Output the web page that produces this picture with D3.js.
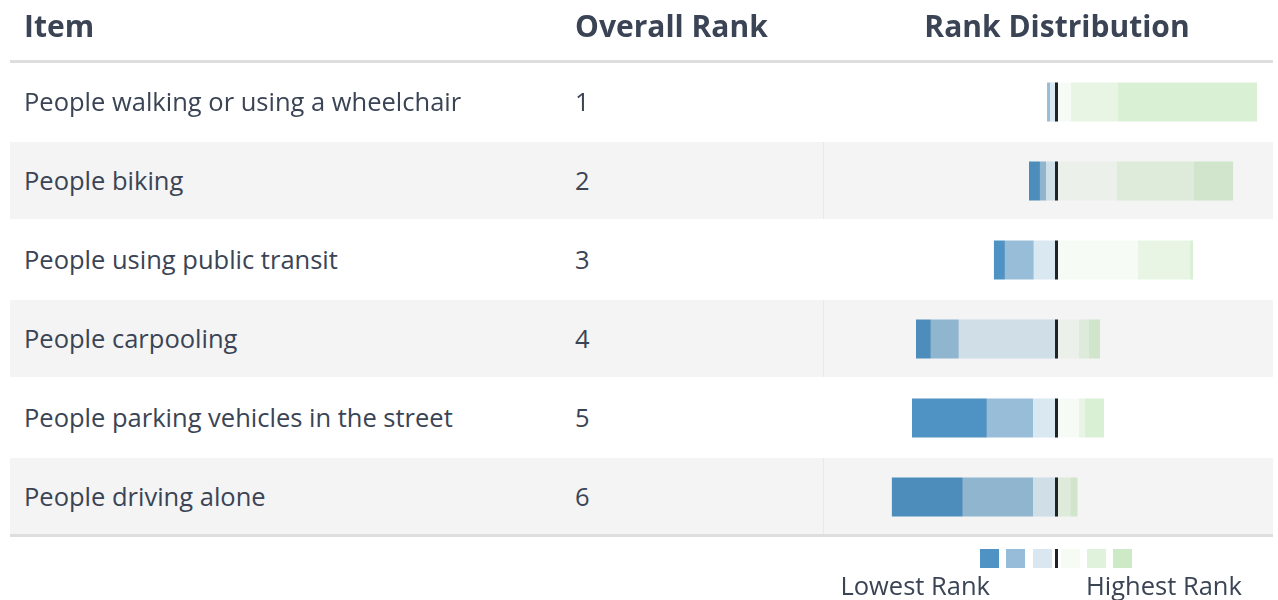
<!DOCTYPE html>
<html>
<head>
<meta charset="utf-8">
<script src="https://cdn.jsdelivr.net/npm/d3@7"></script>
<style>
  body { margin: 0; background: #fff; }
  svg text { font-family: "Open Sans", Lato, sans-serif; fill: #3a4455; }
</style>
</head>
<body>
<div id="root"></div>
<script>
const width = 1278;
const height = 600;

// table content
const items = [
  'People walking or using a wheelchair',
  'People biking',
  'People using public transit',
  'People carpooling',
  'People parking vehicles in the street',
  'People driving alone'
];
const overallRank = [1, 2, 3, 4, 5, 6];

// share of respondents (%) giving each rank, lowest rank (6) first
const rankLabels = ['6', '5', '4', '3', '2', '1'];
const rank6 = [0, 5.2, 5.2, 7.0, 35.6, 33.7];
const rank5 = [1.4, 2.9, 13.7, 13.3, 22.0, 33.5];
const rank4 = [3.1, 5.0, 10.9, 46.6, 11.2, 11.2];
const rank3 = [6.9, 28.8, 38.8, 10.7, 10.7, 0.5];
const rank2 = [22.4, 36.7, 24.8, 4.8, 2.9, 6.2];
const rank1 = [66.2, 18.6, 1.4, 5.2, 9.0, 3.3];

const barColors = ['#4f93c4', '#97bdd9', '#dae8f2', '#f6fbf5', '#e8f5e4', '#daf0d5'];
const legendColors = ['#4f93c4', '#97bcd9', '#dae7f1', '#f6fbf4', '#e0f2dc', '#cde9c6'];

const series = [rank6, rank5, rank4, rank3, rank2, rank1];

const rows = items.map((name, i) => {
  const vals = series.map(s => s[i]);
  const neg = vals[0] + vals[1] + vals[2];
  let acc = -neg;
  const segs = vals.map((v, k) => {
    const s = {rank: rankLabels[k], x0: acc, x1: acc + v, color: barColors[k]};
    acc += v;
    return s;
  });
  return {name, rank: overallRank[i], segs};
});

const svg = d3.select('#root').append('svg')
  .attr('width', width)
  .attr('height', height);

const tableLeft = 10, tableRight = 1273;
const headerBottom = 61;
const rowH = 79;
const chartLeft = 823;
const center = 1056.5;

const x = d3.scaleLinear().domain([-100, 100]).range([center - 210, center + 210]);
const y = d3.scaleBand().domain(d3.range(items.length))
  .range([headerBottom, headerBottom + rowH * items.length]);

// header
const head = svg.append('g').attr('font-weight', 700).attr('font-size', 30);
head.append('text').attr('x', 24).attr('y', 37).text('Item');
head.append('text').attr('x', 575).attr('y', 37).text('Overall Rank');
head.append('text').attr('x', 1057).attr('y', 37).attr('text-anchor', 'middle').text('Rank Distribution');

svg.append('rect')
  .attr('x', tableLeft).attr('y', headerBottom - 1)
  .attr('width', tableRight - tableLeft).attr('height', 3)
  .attr('fill', '#dedede');

const row = svg.selectAll('g.row')
  .data(rows)
  .join('g')
  .attr('class', 'row')
  .attr('transform', (d, i) => `translate(0,${y(i)})`);

row.append('rect')
  .attr('x', tableLeft).attr('y', 2)
  .attr('width', tableRight - tableLeft).attr('height', rowH - 2)
  .attr('fill', (d, i) => i % 2 ? '#f4f4f4' : '#fff');

row.filter((d, i) => i % 2)
  .append('line')
  .attr('x1', chartLeft + 0.5).attr('x2', chartLeft + 0.5)
  .attr('y1', 2).attr('y2', rowH)
  .attr('stroke', '#e9e9e9');

row.append('text')
  .attr('x', 24).attr('y', rowH / 2 + 10.5)
  .attr('font-size', 25.5)
  .text(d => d.name);

row.append('text')
  .attr('x', 575).attr('y', rowH / 2 + 10.5)
  .attr('font-size', 25.5)
  .text(d => d.rank);

const barY = rowH / 2 + 1.5 - 19.5;
row.selectAll('rect.seg')
  .data(d => d.segs)
  .join('rect')
  .attr('class', 'seg')
  .attr('x', d => x(d.x0))
  .attr('width', d => x(d.x1) - x(d.x0))
  .attr('y', barY)
  .attr('height', 39)
  .attr('fill', d => d.color)
  .style('mix-blend-mode', 'multiply');

row.append('rect')
  .attr('x', center - 1.5).attr('width', 3)
  .attr('y', barY).attr('height', 39)
  .attr('fill', '#1f2326');

// bottom border
svg.append('rect')
  .attr('x', tableLeft).attr('y', y(items.length - 1) + rowH - 1)
  .attr('width', tableRight - tableLeft).attr('height', 3)
  .attr('fill', '#dedede');

// legend
const legend = svg.append('g');
const legendPos = [980, 1006, 1033, 1061, 1087, 1113];
legend.selectAll('rect')
  .data(rankLabels)
  .join('rect')
  .attr('x', (d, i) => legendPos[i])
  .attr('y', 549)
  .attr('width', 19).attr('height', 19)
  .attr('fill', (d, i) => legendColors[i]);
legend.append('rect')
  .attr('x', 1055).attr('y', 549).attr('width', 3).attr('height', 19)
  .attr('fill', '#1f2326');
legend.append('text')
  .attr('x', 990).attr('y', 595).attr('text-anchor', 'end')
  .attr('font-size', 25.5).text('Lowest Rank');
legend.append('text')
  .attr('x', 1086).attr('y', 595)
  .attr('font-size', 25.5).text('Highest Rank');
</script>
</body>
</html>
